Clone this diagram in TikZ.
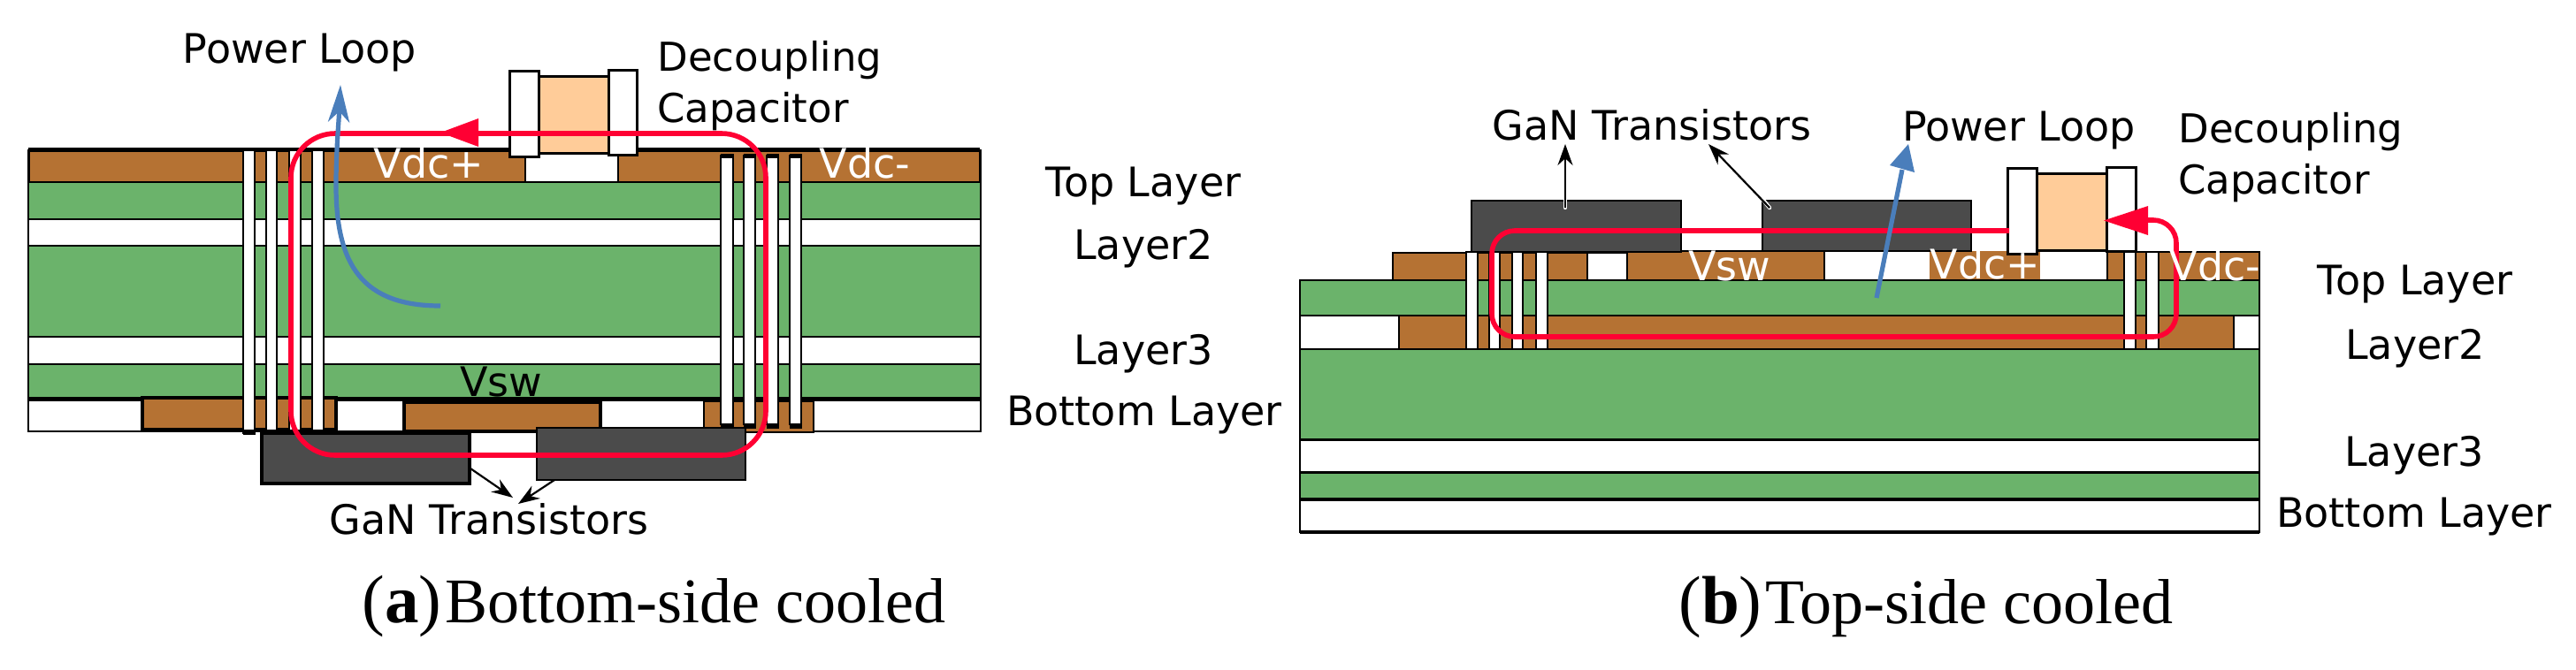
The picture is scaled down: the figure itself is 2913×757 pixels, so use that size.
\documentclass[tikz,border=0pt]{standalone}
\usepackage{fontspec}
\usetikzlibrary{arrows.meta}
\newfontfamily\labfont{DejaVu Sans}
\newfontfamily\captfont{Liberation Serif}
\definecolor{pcbgreen}{HTML}{6BB36B}
\definecolor{copper}{HTML}{B57233}
\definecolor{chip}{HTML}{4B4B4B}
\definecolor{capbody}{HTML}{FFCC99}
\definecolor{loopred}{HTML}{FF0033}
\definecolor{loopblue}{HTML}{4A7EBB}
\newcommand{\captag}[1]{{\fontsize{38.5}{40}\selectfont(\textbf{#1})}\hspace{2pt}}
\tikzset{
  x=0.5pt,y=-0.5pt,
  lab/.style={inner sep=0pt,anchor=base,font=\labfont\fontsize{23}{27}\selectfont},
  labd/.style={inner sep=0pt,anchor=base west,font=\labfont\fontsize{22.5}{27}\selectfont},
  wlab/.style={lab,text=white},
  capt/.style={inner sep=0pt,anchor=base west,font=\captfont\fontsize{36}{40}\selectfont},
  fr/.style={draw=black,line width=1.2pt},
  board/.style={fr,fill=pcbgreen},
  blank/.style={fr,fill=white},
  cu/.style={fr,fill=copper},
  cuthick/.style={draw=black,line width=2.2pt,fill=copper},
  viabox/.style={draw=black,line width=0.9pt,fill=white},
  chipbox/.style={draw=black,line width=1.3pt,fill=chip},
  capb/.style={draw=black,line width=1.5pt,fill=capbody},
  capp/.style={draw=black,line width=1.5pt,fill=white},
  redloop/.style={draw=loopred,line width=2.8pt},
  redhead/.style={fill=loopred},
  bluearrow/.style={draw=loopblue,line width=2.6pt},
  thin arrow/.style={draw=black,line width=1.1pt,-{Stealth[length=12pt,width=8.5pt]}},
  halo/.style={draw=white,line width=2.2pt,line cap=round},
}
\begin{document}
\begin{tikzpicture}
\useasboundingbox (0,0) rectangle (2913,757);
\fill[white] (0,0) rectangle (2913,757);
% ---------- panel (a) ----------
\draw[cu,line width=1.5pt] (32,170) rectangle (1108,206);
\draw[draw=black,line width=2.2pt] (32,169) -- (1108,169);
\draw[white,fill=white] (594,173) rectangle (699,204);
\draw[line width=1.2pt] (594,172) -- (594,206) (699,172) -- (699,206);
\draw[board] (32,206) rectangle (1109,248);
\draw[blank] (32,248) rectangle (1109,278);
\draw[board] (32,278) rectangle (1109,381);
\draw[blank] (32,381) rectangle (1109,412);
\draw[board] (32,412) rectangle (1109,450);
\draw[blank] (32,450) rectangle (1109,488);
\draw[draw=black,line width=2.5pt] (32,451) -- (1109,451);
\draw[cuthick] (161,450) rectangle (380,486);
\draw[cuthick] (457,455) rectangle (679,488);
\draw[fr,fill=copper] (796,454) rectangle (920,489);
\foreach \xa/\xb in {275/288,301/313,327/340,353/366}{
  \draw[viabox] (\xa,168) rectangle (\xb,490);
  \fill (\xa-0.5,486) rectangle (\xb+0.5,492);
  \fill (\xa-0.5,167) rectangle (\xb+0.5,171);
}
\foreach \xa/\xb in {815/829,841/854,867/880,893/906}{
  \draw[viabox] (\xa,176) rectangle (\xb,480);
  \fill (\xa-0.5,174) rectangle (\xb+0.5,179);
  \fill (\xa-0.5,479) rectangle (\xb+0.5,485);
}
\draw[chipbox,line width=1.8pt] (296,490) rectangle (531,547);
\draw[chipbox] (607,484) rectangle (843,543);
\draw[capb] (609,86) rectangle (688,173);
\draw[capp] (576,80) rectangle (609,177);
\draw[capp] (688,79) rectangle (720,175);
\draw[redloop,rounded corners=25pt] (329,151) rectangle (866,515);
\fill[redhead] (498,150) -- (541,134) -- (541,166) -- cycle;
\coordinate (atail) at (498,346);
\coordinate (atip) at (385,96);
\draw[bluearrow,-{Stealth[length=21pt,width=12pt,inset=6pt]}] (atail) .. controls (410,346) and (380,300) .. (380,210) .. controls (380,170) and (383,140) .. (atip);
\coordinate (at1) at (532,530);
\coordinate (at2) at (627,543);
\coordinate (alab1) at (580,563);
\coordinate (alab2) at (586,570);
\draw[thin arrow] (at1) -- (alab1);
\draw[thin arrow] (at2) -- (alab2);
\node[lab] (aloop) at (339,71) {Power Loop};
\node[labd] (adec) at (743,80) {Decoupling};
\node[labd] (acap) at (743,138) {Capacitor};
\node[wlab] (avp) at (485,201) {Vdc+};
\node[wlab] (avm) at (978,201) {Vdc-};
\node[lab] (avsw) at (567,448) {Vsw};
\node[lab] (atop) at (1293,222) {Top Layer};
\node[lab] (al2) at (1293,293) {Layer2};
\node[lab] (al3) at (1293,412) {Layer3};
\node[lab] (abot) at (1294,481) {Bottom Layer};
\node[lab] (agan) at (553,604) {GaN Transistors};
\node[capt] (acapt) at (409,704) {\captag{a}Bottom-side cooled};
% ---------- panel (b) ----------
\draw[cu] (1575,286) rectangle (1795,317);
\draw[blank] (1795,286) rectangle (1840,317);
\draw[cu] (1840,284) rectangle (2063,317);
\draw[fr,fill=copper,draw=none] (2182,284) rectangle (2307,317);
\draw[cu] (2383,285) rectangle (2555,317);
\draw[board] (1470,317) rectangle (2555,357);
\draw[blank] (1470,357) rectangle (1582,395);
\draw[cu] (1582,357) rectangle (2526,395);
\draw[blank] (2526,357) rectangle (2555,395);
\draw[board] (1470,395) rectangle (2555,497);
\draw[blank] (1470,497) rectangle (2555,534);
\draw[board] (1470,534) rectangle (2555,565);
\draw[blank] (1470,565) rectangle (2555,602);
\draw[draw=black,line width=2.2pt] (1470,565) -- (2555,565);
\draw[draw=black,line width=1.8pt] (1470,602) -- (2555,602);
\draw[draw=black,line width=1.5pt] (1470,534) -- (2555,534) (1470,497) -- (2555,497);
\draw[draw=black,line width=1.3pt] (2182,317) -- (2383,317);
\foreach \xa/\xb in {1658/1671,1684/1696,1710/1722,1737/1750,2402/2415,2427/2441}{
  \draw[viabox] (\xa,285) rectangle (\xb,395);
}
\draw[chipbox] (1664,227) rectangle (1901,285);
\draw[chipbox] (1993,227) rectangle (2229,284);
\draw[capb] (2303,196) rectangle (2382,283);
\draw[capp] (2270,190) rectangle (2303,287);
\draw[capp] (2382,189) rectangle (2415,284);
\draw[redloop,rounded corners=13pt] (2272,261) -- (1687,261) -- (1687,381) -- (2461,381) -- (2461,249) -- (2405,249);
\fill[redhead] (2379,249.5) -- (2429,233) -- (2429,266) -- cycle;
\coordinate (btail) at (2122,337);
\coordinate (btip) at (2158,163);
\draw[bluearrow] (btail) -- (2151,192);
\fill[loopblue] (btip) -- (2165,195) -- (2137,187) -- cycle;
\coordinate (bt1) at (1770,235);
\coordinate (bt2) at (2001,235);
\coordinate (blab1) at (1770,163);
\coordinate (blab2) at (1932,163);
\draw[halo] (1770,226) -- (bt1);
\draw[halo] (1992,224) -- (bt2);
\draw[thin arrow] (bt1) -- (blab1);
\draw[thin arrow] (bt2) -- (blab2);
\node[lab] (bgan) at (1868,158) {GaN Transistors};
\node[lab] (bloop) at (2283,159) {Power Loop};
\node[labd] (bdec) at (2463,161) {Decoupling};
\node[labd] (bcap) at (2463,219) {Capacitor};
\node[wlab] (bvsw) at (1956,317) {Vsw};
\node[wlab] (bvp) at (2245,315) {Vdc+};
\node[wlab] (bvm) at (2505,317) {Vdc-};
\node[lab] (btop) at (2731,333) {Top Layer};
\node[lab] (bl2) at (2731,406) {Layer2};
\node[lab] (bl3) at (2730,527) {Layer3};
\node[lab] (bbot) at (2730,596) {Bottom Layer};
\node[capt] (bcapt) at (1898,705) {\captag{b}Top-side cooled};
\end{tikzpicture}
\end{document}
